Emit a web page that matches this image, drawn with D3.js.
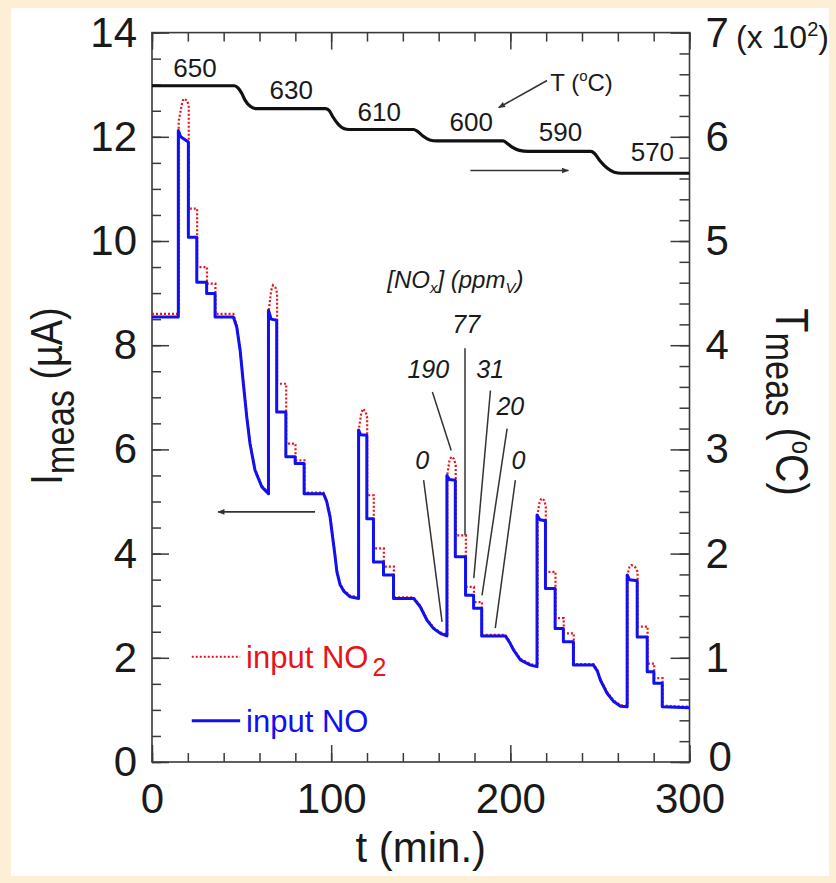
<!DOCTYPE html>
<html>
<head>
<meta charset="utf-8">
<script src="https://cdn.jsdelivr.net/npm/d3@7"></script>
<style>
  body { margin: 0; background: #fcefd6; }
  text { font-family: "Liberation Sans", Arial, Helvetica, sans-serif; }
</style>
</head>
<body>
<svg id="chart" width="836" height="883"></svg>
<script>
// time axis (min), current axis (uA), temperature axis (degC)
const tTicks = [0, 100, 200, 300]
const tMinor = d3.range(0, 301, 20)
const iTicks = [0, 2, 4, 6, 8, 10, 12, 14]
const iMinor = d3.range(0, 14.01, 0.5)
const tempTicks = [0, 100, 200, 300, 400, 500, 600, 700]
const tempMinor = d3.range(0, 701, 20)

// input NO : [t, I]
const noPoints = [
  [0, 8.54], [14.7, 8.54], [14.7, 12.12], [16, 12.0], [20.3, 11.9], [20.3, 10.07], [25, 10.07], [25, 9.21],
  [30.5, 9.21], [30.5, 8.99], [35.2, 8.99], [35.2, 8.54], [45.4, 8.54], [47.3, 8.35], [49.2, 7.9], [51, 7.26],
  [52.9, 6.62], [54.7, 6.11], [57.5, 5.6], [61.3, 5.28], [65, 5.15],
  [65, 8.67], [66.5, 8.5], [69.6, 8.48], [69.6, 6.72], [74.7, 6.72], [74.7, 5.86], [79.9, 5.86], [79.9, 5.73],
  [84.9, 5.73], [84.9, 5.15], [95.7, 5.15], [97.5, 5.0], [99.4, 4.7], [100.5, 4.4], [102, 4.0], [103.2, 3.65],
  [105, 3.4], [107, 3.28], [110.6, 3.17], [115.3, 3.14],
  [115.3, 6.37], [116.5, 6.28], [119.9, 6.27], [119.9, 4.67], [123.6, 4.67], [123.6, 3.84], [129.2, 3.84],
  [129.2, 3.59], [134.8, 3.59], [134.8, 3.14], [146, 3.14], [149.7, 2.98], [153.5, 2.72], [157.2, 2.56],
  [160.9, 2.47], [164.6, 2.42],
  [164.6, 5.5], [166, 5.42], [169.3, 5.41], [169.3, 3.94], [175, 3.94], [175, 3.2], [179.5, 3.2], [179.5, 2.95],
  [184, 2.95], [184, 2.42], [197.2, 2.42], [199.5, 2.3], [201.8, 2.15], [205.6, 1.96], [211.2, 1.86], [214.9, 1.83],
  [214.9, 4.74], [216.5, 4.65], [219.6, 4.63], [219.6, 3.33], [225, 3.33], [225, 2.56], [229.6, 2.56], [229.6, 2.31],
  [235.2, 2.31], [235.2, 1.86], [246.4, 1.86], [248.5, 1.75], [250.3, 1.57], [254, 1.32], [257.7, 1.16],
  [261.5, 1.07], [265.2, 1.06],
  [265.2, 3.59], [266.5, 3.5], [270.8, 3.48], [270.8, 2.4], [276.4, 2.4], [276.4, 1.73], [280.1, 1.73],
  [280.1, 1.51], [284.8, 1.51], [284.8, 1.06], [300, 1.04]
]

// input NO2 : [t, I]
const no2Points = [
  [0, 8.6], [14.9, 8.6], [14.9, 12.3], [16.5, 12.6], [17.5, 12.73], [19.5, 12.7], [20.5, 12.6], [20.5, 10.62],
  [25.2, 10.62], [25.2, 9.5], [30.7, 9.5], [30.7, 9.18], [35.4, 9.18], [35.4, 8.6], [45.4, 8.6], [47.3, 8.38],
  [49.2, 7.92], [51, 7.28], [52.9, 6.64], [54.7, 6.13], [57.5, 5.62], [61.3, 5.3], [65.2, 5.17],
  [65.2, 8.67], [66.5, 9.05], [67.5, 9.15], [69, 9.1], [69.8, 9.0], [69.8, 7.26], [74.9, 7.26], [74.9, 6.11],
  [80.1, 6.11], [80.1, 5.79], [85.1, 5.79], [85.1, 5.17], [95.7, 5.17], [97.5, 5.02], [99.4, 4.72], [100.5, 4.42],
  [102, 4.02], [103.2, 3.67], [105, 3.42], [107, 3.3], [110.6, 3.19], [115.5, 3.16],
  [115.5, 6.4], [116.8, 6.7], [117.8, 6.78], [119.3, 6.72], [120.1, 6.6], [120.1, 5.12], [123.8, 5.12],
  [123.8, 4.1], [129.4, 4.1], [129.4, 3.75], [135, 3.75], [135, 3.16], [146, 3.16], [149.7, 3.0], [153.5, 2.74],
  [157.2, 2.58], [160.9, 2.49], [164.8, 2.44],
  [164.8, 5.5], [166, 5.78], [167, 5.86], [168.5, 5.82], [169.5, 5.7], [169.5, 4.35], [175.2, 4.35], [175.2, 3.36],
  [179.7, 3.36], [179.7, 3.07], [184.2, 3.07], [184.2, 2.44], [197.2, 2.44], [199.5, 2.32], [201.8, 2.17],
  [205.6, 1.98], [211.2, 1.88], [215.1, 1.85],
  [215.1, 4.74], [216.3, 4.98], [217.3, 5.06], [219, 5.02], [219.8, 4.9], [219.8, 3.65], [225.2, 3.65],
  [225.2, 2.76], [229.8, 2.76], [229.8, 2.47], [235.4, 2.47], [235.4, 1.88], [246.4, 1.88], [248.5, 1.77],
  [250.3, 1.59], [254, 1.34], [257.7, 1.18], [261.5, 1.09], [265.4, 1.08],
  [265.4, 3.6], [266.5, 3.74], [267.5, 3.78], [269.5, 3.75], [271, 3.65], [271, 2.6], [276.6, 2.6], [276.6, 1.89],
  [280.3, 1.89], [280.3, 1.61], [285, 1.61], [285, 1.08], [300, 1.06]
]

// measured temperature : [t, degC]
const tempPoints = [
  [0, 649], [46, 649], [48, 647], [50, 642], [52, 635], [55, 629], [58, 627], [97, 627], [99, 625], [101, 619],
  [104, 612], [107, 608], [110, 607], [146, 607], [148, 605.5], [151, 601], [155, 597], [159, 596], [196, 596],
  [198, 594], [201, 590], [205, 587], [210, 586], [245, 586], [247, 584], [250, 577], [254, 570], [258, 566],
  [262, 565], [300, 565]
]

// setpoint labels : [label, t, degC]
const tempLabels = [['650', 24, 657], ['630', 77.7, 636.5], ['610', 126.8, 615.5], ['600', 178.2, 606], ['590', 228, 596.4], ['570', 279.3, 577]]

// [NOx] annotations : [label, textT, textI, lineT1, lineI1, lineT2, lineI2]
const noxLabels = [
  ['190', 154.2, 7.38, 156.5, 7.1, 167, 5.98],
  ['77', 175.4, 8.23, 174.7, 7.94, 174.7, 4.35],
  ['31', 188.8, 7.38, 188.9, 7.13, 179.6, 3.53],
  ['20', 200, 6.66, 198.2, 6.4, 184.2, 3.2],
  ['0', 150.8, 5.62, 151.6, 5.41, 161.9, 2.69],
  ['0', 204.5, 5.62, 202.8, 5.41, 191.6, 2.57]
]

const svg = d3.select('#chart')
const padL = 152, padR = 689.5, padT = 32.6, padB = 762
const axisColor = '#3a3a3a'
const textColor = '#1a1a1a'
const blue = '#1010f0'
const red = '#e8141a'

svg.append('rect').attr('x', 11).attr('y', 8).attr('width', 818).attr('height', 868).attr('fill', '#fff')

const x = d3.scaleLinear().domain([0, 300]).range([padL, padR])
const y = d3.scaleLinear().domain([0, 14]).range([padB, padT])
const yT = d3.scaleLinear().domain([0, 700]).range([padB, padT])

const defs = svg.append('defs')
defs.append('marker').attr('id', 'head')
  .attr('viewBox', '0 0 10 10').attr('refX', 9).attr('refY', 5)
  .attr('markerWidth', 9).attr('markerHeight', 7).attr('orient', 'auto').attr('markerUnits', 'userSpaceOnUse')
  .append('path').attr('d', 'M0,1 L10,5 L0,9 Z').attr('fill', '#333')

// axes: inward ticks, minor + major
const styleAxis = (g, fs) => {
  g.select('.domain').remove()
  g.selectAll('.tick line').attr('stroke', axisColor).attr('stroke-width', 1.5)
  g.selectAll('.tick text').attr('fill', textColor).style('font-size', fs + 'px')
    .style('font-family', '"Liberation Sans", Arial, sans-serif')
}

svg.append('g').attr('transform', `translate(${padL},0)`)
  .call(d3.axisLeft(y).tickValues(iMinor).tickSize(-9).tickFormat('')).call(g => styleAxis(g, 40))
svg.append('g').attr('transform', `translate(${padL},0)`)
  .call(d3.axisLeft(y).tickValues(iTicks).tickSize(-17).tickPadding(15).tickFormat(d3.format('d'))).call(g => styleAxis(g, 42))

svg.append('g').attr('transform', `translate(${padR},0)`)
  .call(d3.axisRight(yT).tickValues(tempMinor).tickSize(-10).tickFormat('')).call(g => styleAxis(g, 40))
const rightAxis = svg.append('g').attr('transform', `translate(${padR},0)`)
  .call(d3.axisRight(yT).tickValues(tempTicks).tickSize(-19).tickPadding(16).tickFormat(d => d / 100)).call(g => styleAxis(g, 42))
// the bottom "0" sits a little higher so it clears "300"
rightAxis.selectAll('.tick text').filter(d => d === 0).attr('dy', '0.2em').attr('x', 19)

svg.append('g').attr('transform', `translate(0,${padB})`)
  .call(d3.axisBottom(x).tickValues(tMinor).tickSize(-9).tickFormat('')).call(g => styleAxis(g, 40))
svg.append('g').attr('transform', `translate(0,${padB})`)
  .call(d3.axisBottom(x).tickValues(tTicks).tickSize(-17).tickPadding(21).tickFormat(d3.format('d'))).call(g => styleAxis(g, 42))

svg.append('g').attr('transform', `translate(0,${padT})`)
  .call(d3.axisTop(x).tickValues(tMinor).tickSize(-9).tickFormat('')).call(g => styleAxis(g, 40))
svg.append('g').attr('transform', `translate(0,${padT})`)
  .call(d3.axisTop(x).tickValues(tTicks).tickSize(-17).tickFormat('')).call(g => styleAxis(g, 40))

svg.append('rect').attr('x', padL).attr('y', padT).attr('width', padR - padL).attr('height', padB - padT)
  .attr('fill', 'none').attr('stroke', axisColor).attr('stroke-width', 1.6)

// series
const lineI = d3.line().x(d => x(d[0])).y(d => y(d[1]))
const lineT = d3.line().x(d => x(d[0])).y(d => yT(d[1])).curve(d3.curveMonotoneX)

svg.append('path').datum(no2Points).attr('d', lineI)
  .attr('fill', 'none').attr('stroke', red).attr('stroke-width', 2.2).attr('stroke-dasharray', '2,2')
svg.append('path').datum(noPoints).attr('d', lineI)
  .attr('fill', 'none').attr('stroke', blue).attr('stroke-width', 3).attr('stroke-linejoin', 'round')
svg.append('path').datum(tempPoints).attr('d', lineT)
  .attr('fill', 'none').attr('stroke', '#111').attr('stroke-width', 3.2)

// temperature setpoints
svg.selectAll('text.tlab').data(tempLabels).enter().append('text').attr('class', 'tlab')
  .attr('x', d => x(d[1])).attr('y', d => yT(d[2])).attr('text-anchor', 'middle')
  .style('font-size', '26px').attr('fill', textColor).text(d => d[0])

// T (oC) arrow
svg.append('line').attr('x1', x(220.5)).attr('y1', yT(654)).attr('x2', x(193.5)).attr('y2', yT(628))
  .attr('stroke', '#333').attr('stroke-width', 1.6).attr('marker-end', 'url(#head)')
const tl = svg.append('text').attr('x', x(222.3)).attr('y', yT(644)).style('font-size', '24px').attr('fill', textColor)
tl.append('tspan').text('T (')
tl.append('tspan').text('o').style('font-size', '15px').attr('dy', -10)
tl.append('tspan').text('C)').attr('dy', 10)

// direction arrows
svg.append('line').attr('x1', x(177.7)).attr('y1', yT(567.7)).attr('x2', x(232.4)).attr('y2', yT(567.7))
  .attr('stroke', '#333').attr('stroke-width', 1.6).attr('marker-end', 'url(#head)')
svg.append('line').attr('x1', x(91)).attr('y1', y(4.8)).attr('x2', x(36.9)).attr('y2', y(4.8))
  .attr('stroke', '#333').attr('stroke-width', 1.6).attr('marker-end', 'url(#head)')

// [NOx] (ppmV)
const nl = svg.append('text').attr('x', x(131.3)).attr('y', y(9.09)).style('font-size', '24px')
  .style('font-style', 'italic').attr('fill', textColor)
nl.append('tspan').text('[NO')
nl.append('tspan').text('x').style('font-size', '15px').attr('dy', 5)
nl.append('tspan').text('] (ppm').attr('dy', -5)
nl.append('tspan').text('V').style('font-size', '15px').attr('dy', 5)
nl.append('tspan').text(')').attr('dy', -5)

const ann = svg.selectAll('g.nox').data(noxLabels).enter().append('g').attr('class', 'nox')
ann.append('line').attr('x1', d => x(d[3])).attr('y1', d => y(d[4])).attr('x2', d => x(d[5])).attr('y2', d => y(d[6]))
  .attr('stroke', '#333').attr('stroke-width', 1.5)
ann.append('text').attr('x', d => x(d[1])).attr('y', d => y(d[2])).attr('text-anchor', 'middle')
  .style('font-size', '25px').style('font-style', 'italic').attr('fill', textColor).text(d => d[0])

// legend
svg.append('line').attr('x1', x(22.2)).attr('x2', x(49.2)).attr('y1', y(2.02)).attr('y2', y(2.02))
  .attr('stroke', red).attr('stroke-width', 2).attr('stroke-dasharray', '2,2')
svg.append('line').attr('x1', x(22.2)).attr('x2', x(49.2)).attr('y1', y(0.79)).attr('y2', y(0.79))
  .attr('stroke', blue).attr('stroke-width', 3)
const l1 = svg.append('text').attr('x', x(52.5)).attr('y', y(1.8)).style('font-size', '31px').attr('fill', red)
l1.append('tspan').text('input NO')
l1.append('tspan').text('2').style('font-size', '25px').attr('dy', 8).attr('dx', 4)
svg.append('text').attr('x', x(52.5)).attr('y', y(0.58)).style('font-size', '31px').attr('fill', blue).text('input NO')

// axis titles
const yl = svg.append('text').attr('transform', 'translate(62,396) rotate(-90) scale(0.86,1)')
  .attr('text-anchor', 'middle').style('font-size', '44px').attr('fill', textColor)
yl.append('tspan').text('I')
yl.append('tspan').text('meas').style('font-size', '40px').attr('dy', 12)
yl.append('tspan').text(' (µA)').attr('dy', -12)

const yr = svg.append('text').attr('transform', 'translate(776,402) rotate(90) scale(0.86,1)')
  .attr('text-anchor', 'middle').style('font-size', '46px').attr('fill', textColor)
yr.append('tspan').text('T')
yr.append('tspan').text('meas').style('font-size', '40px').attr('dy', 10)
yr.append('tspan').text(' (').attr('dy', -10)
yr.append('tspan').text('o').style('font-size', '28px').attr('dy', -16)
yr.append('tspan').text('C)').attr('dy', 16)

svg.append('text').attr('x', (padL + padR) / 2).attr('y', 862).attr('text-anchor', 'middle')
  .style('font-size', '42px').attr('fill', textColor).text('t (min.)')

const sc = svg.append('text').attr('x', 736).attr('y', 48).style('font-size', '32px').attr('fill', textColor)
sc.append('tspan').text('(x 10')
sc.append('tspan').text('2').style('font-size', '20px').attr('dy', -12)
sc.append('tspan').text(')').attr('dy', 12)
</script>
</body>
</html>
